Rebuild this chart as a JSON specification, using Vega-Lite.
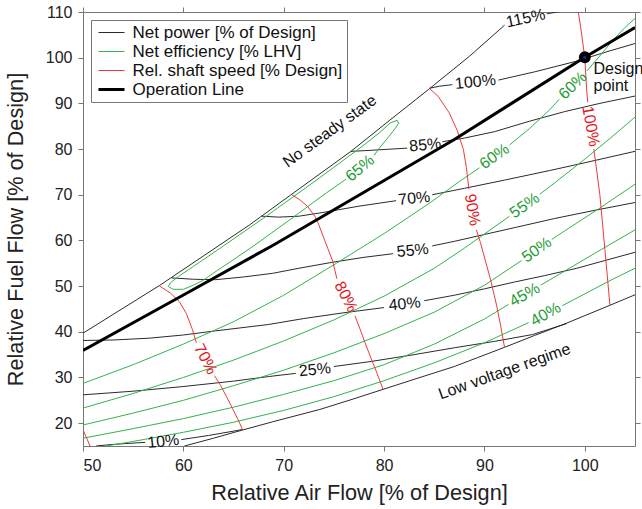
{
  "$schema": "https://vega.github.io/schema/vega-lite/v6.json",
  "width": 552,
  "height": 434,
  "autosize": {"type": "none"},
  "padding": {"left": 83, "top": 12, "right": 7, "bottom": 63},
  "background": "white",
  "config": {
    "font": "Liberation Sans",
    "view": {"stroke": null},
    "axis": {
      "grid": false, "tickSize": 5, "tickColor": "#777", "domainColor": "#777",
      "labelFontSize": 16, "labelColor": "#222", "titleFontSize": 21.7,
      "titleFontWeight": "normal", "titleColor": "#222",
      "labelFont": "Liberation Sans", "titleFont": "Liberation Sans"
    },
    "text": {"font": "Liberation Sans", "fontSize": 16}
  },
  "datasets": {
    "curves": [
      {"k": "P", "s": "bU", "x": 50, "y": 39.7}, {"k": "P", "s": "bU", "x": 53, "y": 43.8}, {"k": "P", "s": "bU", "x": 57.6, "y": 50.1}, {"k": "P", "s": "bU", "x": 62, "y": 56.6}, {"k": "P", "s": "bU", "x": 66.6, "y": 63.4}, {"k": "P", "s": "bU", "x": 70.6, "y": 69.8}, {"k": "P", "s": "bU", "x": 76.7, "y": 79.5}, {"k": "P", "s": "bU", "x": 80.5, "y": 86.2}, {"k": "P", "s": "bU", "x": 84.4, "y": 93.0}, {"k": "P", "s": "bU", "x": 88.5, "y": 100.3}, {"k": "P", "s": "bU", "x": 92.0, "y": 107.1},
      {"k": "P", "s": "p115", "x": 96.2, "y": 109.6}, {"k": "P", "s": "p115", "x": 97.8, "y": 110.2},
      {"k": "P", "s": "p100a", "x": 84.5, "y": 93.3}, {"k": "P", "s": "p100a", "x": 85.5, "y": 93.75}, {"k": "P", "s": "p100a", "x": 86.8, "y": 94.1},
      {"k": "P", "s": "p100b", "x": 91.4, "y": 95.1}, {"k": "P", "s": "p100b", "x": 95, "y": 96.9}, {"k": "P", "s": "p100b", "x": 99.3, "y": 99.3}, {"k": "P", "s": "p100b", "x": 100, "y": 99.8}, {"k": "P", "s": "p100b", "x": 102.5, "y": 101.5}, {"k": "P", "s": "p100b", "x": 105, "y": 103.1},
      {"k": "P", "s": "p85a", "x": 76.7, "y": 79.5}, {"k": "P", "s": "p85a", "x": 78.5, "y": 79.7}, {"k": "P", "s": "p85a", "x": 80, "y": 79.9}, {"k": "P", "s": "p85a", "x": 82.3, "y": 80.2},
      {"k": "P", "s": "p85b", "x": 85.8, "y": 81.6}, {"k": "P", "s": "p85b", "x": 88, "y": 82.4}, {"k": "P", "s": "p85b", "x": 91, "y": 83.8}, {"k": "P", "s": "p85b", "x": 94.5, "y": 86.1}, {"k": "P", "s": "p85b", "x": 98, "y": 88.2}, {"k": "P", "s": "p85b", "x": 101.5, "y": 90.0}, {"k": "P", "s": "p85b", "x": 105, "y": 91.6},
      {"k": "P", "s": "p70a", "x": 67.8, "y": 65.3}, {"k": "P", "s": "p70a", "x": 69.5, "y": 65.1}, {"k": "P", "s": "p70a", "x": 71.5, "y": 65.3}, {"k": "P", "s": "p70a", "x": 73.6, "y": 66.0}, {"k": "P", "s": "p70a", "x": 77.5, "y": 67.5}, {"k": "P", "s": "p70a", "x": 81.2, "y": 68.7},
      {"k": "P", "s": "p70b", "x": 84.8, "y": 70.0}, {"k": "P", "s": "p70b", "x": 88, "y": 71.4}, {"k": "P", "s": "p70b", "x": 92, "y": 73.2}, {"k": "P", "s": "p70b", "x": 96.5, "y": 75.3}, {"k": "P", "s": "p70b", "x": 100, "y": 77.0}, {"k": "P", "s": "p70b", "x": 105, "y": 79.5},
      {"k": "P", "s": "p55a", "x": 58.8, "y": 51.8}, {"k": "P", "s": "p55a", "x": 61, "y": 51.5}, {"k": "P", "s": "p55a", "x": 63.2, "y": 51.4}, {"k": "P", "s": "p55a", "x": 66, "y": 52.0}, {"k": "P", "s": "p55a", "x": 68.9, "y": 52.8}, {"k": "P", "s": "p55a", "x": 71.5, "y": 53.9}, {"k": "P", "s": "p55a", "x": 74.8, "y": 55.2}, {"k": "P", "s": "p55a", "x": 78, "y": 56.3}, {"k": "P", "s": "p55a", "x": 80.9, "y": 57.1},
      {"k": "P", "s": "p55b", "x": 84.8, "y": 58.8}, {"k": "P", "s": "p55b", "x": 87, "y": 59.8}, {"k": "P", "s": "p55b", "x": 90, "y": 61.3}, {"k": "P", "s": "p55b", "x": 93.2, "y": 62.9}, {"k": "P", "s": "p55b", "x": 97, "y": 64.8}, {"k": "P", "s": "p55b", "x": 101, "y": 66.6}, {"k": "P", "s": "p55b", "x": 105, "y": 68.3},
      {"k": "P", "s": "p40a", "x": 50, "y": 38.1}, {"k": "P", "s": "p40a", "x": 53, "y": 38.2}, {"k": "P", "s": "p40a", "x": 56.6, "y": 38.6}, {"k": "P", "s": "p40a", "x": 60, "y": 39.3}, {"k": "P", "s": "p40a", "x": 63.2, "y": 40.2}, {"k": "P", "s": "p40a", "x": 68.5, "y": 41.6}, {"k": "P", "s": "p40a", "x": 72, "y": 42.9}, {"k": "P", "s": "p40a", "x": 76.1, "y": 44.2}, {"k": "P", "s": "p40a", "x": 80.0, "y": 45.3},
      {"k": "P", "s": "p40b", "x": 84.0, "y": 46.8}, {"k": "P", "s": "p40b", "x": 87, "y": 48.0}, {"k": "P", "s": "p40b", "x": 90, "y": 49.4}, {"k": "P", "s": "p40b", "x": 93, "y": 50.9}, {"k": "P", "s": "p40b", "x": 96, "y": 52.3}, {"k": "P", "s": "p40b", "x": 99.2, "y": 53.9}, {"k": "P", "s": "p40b", "x": 102, "y": 55.6}, {"k": "P", "s": "p40b", "x": 105, "y": 57.4},
      {"k": "P", "s": "p25a", "x": 50, "y": 26.2}, {"k": "P", "s": "p25a", "x": 55, "y": 27.0}, {"k": "P", "s": "p25a", "x": 59.9, "y": 28.0}, {"k": "P", "s": "p25a", "x": 65, "y": 29.2}, {"k": "P", "s": "p25a", "x": 68.5, "y": 30.2}, {"k": "P", "s": "p25a", "x": 71.2, "y": 30.9},
      {"k": "P", "s": "p25b", "x": 75.0, "y": 32.4}, {"k": "P", "s": "p25b", "x": 78.7, "y": 33.5}, {"k": "P", "s": "p25b", "x": 83, "y": 35.0}, {"k": "P", "s": "p25b", "x": 87, "y": 36.5}, {"k": "P", "s": "p25b", "x": 91, "y": 37.9}, {"k": "P", "s": "p25b", "x": 94.8, "y": 39.4}, {"k": "P", "s": "p25b", "x": 98.2, "y": 41.8},
      {"k": "P", "s": "p10a", "x": 51.3, "y": 15}, {"k": "P", "s": "p10a", "x": 53, "y": 15.35}, {"k": "P", "s": "p10a", "x": 56.2, "y": 15.8},
      {"k": "P", "s": "p10b", "x": 59.8, "y": 16.4}, {"k": "P", "s": "p10b", "x": 62.5, "y": 17.3}, {"k": "P", "s": "p10b", "x": 65.9, "y": 18.6},
      {"k": "P", "s": "bL", "x": 60.1, "y": 15}, {"k": "P", "s": "bL", "x": 63, "y": 16.7}, {"k": "P", "s": "bL", "x": 65.9, "y": 18.5}, {"k": "P", "s": "bL", "x": 68.9, "y": 20.3}, {"k": "P", "s": "bL", "x": 73.6, "y": 23.0}, {"k": "P", "s": "bL", "x": 76.8, "y": 25.2}, {"k": "P", "s": "bL", "x": 79.9, "y": 27.4}, {"k": "P", "s": "bL", "x": 83, "y": 29.6}, {"k": "P", "s": "bL", "x": 87, "y": 32.4}, {"k": "P", "s": "bL", "x": 92, "y": 36.6}, {"k": "P", "s": "bL", "x": 95, "y": 39.2}, {"k": "P", "s": "bL", "x": 98.2, "y": 41.9}, {"k": "P", "s": "bL", "x": 102.5, "y": 45.8}, {"k": "P", "s": "bL", "x": 105, "y": 48.1},

      {"k": "E", "s": "e65", "x": 79.0, "y": 78.6}, {"k": "E", "s": "e65", "x": 79.6, "y": 80.4}, {"k": "E", "s": "e65", "x": 80.5, "y": 82.8}, {"k": "E", "s": "e65", "x": 81.1, "y": 84.5}, {"k": "E", "s": "e65", "x": 81.45, "y": 85.6}, {"k": "E", "s": "e65", "x": 81.3, "y": 86.3}, {"k": "E", "s": "e65", "x": 80.6, "y": 85.7}, {"k": "E", "s": "e65", "x": 79.5, "y": 83.5}, {"k": "E", "s": "e65", "x": 78, "y": 80.9}, {"k": "E", "s": "e65", "x": 75, "y": 76.0}, {"k": "E", "s": "e65", "x": 72, "y": 71.2}, {"k": "E", "s": "e65", "x": 68, "y": 64.9}, {"k": "E", "s": "e65", "x": 64, "y": 58.8}, {"k": "E", "s": "e65", "x": 61, "y": 54.3}, {"k": "E", "s": "e65", "x": 59.5, "y": 52.1}, {"k": "E", "s": "e65", "x": 58.7, "y": 50.7}, {"k": "E", "s": "e65", "x": 58.5, "y": 49.9}, {"k": "E", "s": "e65", "x": 59.0, "y": 49.3}, {"k": "E", "s": "e65", "x": 60.0, "y": 49.3}, {"k": "E", "s": "e65", "x": 61, "y": 50.2}, {"k": "E", "s": "e65", "x": 62, "y": 51.3}, {"k": "E", "s": "e65", "x": 63.3, "y": 53.3}, {"k": "E", "s": "e65", "x": 65, "y": 55.8}, {"k": "E", "s": "e65", "x": 67, "y": 58.8}, {"k": "E", "s": "e65", "x": 70.6, "y": 64.5}, {"k": "E", "s": "e65", "x": 73, "y": 68.4}, {"k": "E", "s": "e65", "x": 74.25, "y": 70.4}, {"k": "E", "s": "e65", "x": 76.2, "y": 73.4},
      {"k": "E", "s": "e60a", "x": 50, "y": 28.7}, {"k": "E", "s": "e60a", "x": 55, "y": 32.8}, {"k": "E", "s": "e60a", "x": 60, "y": 37.3}, {"k": "E", "s": "e60a", "x": 65, "y": 42.2}, {"k": "E", "s": "e60a", "x": 70, "y": 48.0}, {"k": "E", "s": "e60a", "x": 75.25, "y": 55.0}, {"k": "E", "s": "e60a", "x": 80, "y": 61.5}, {"k": "E", "s": "e60a", "x": 84.55, "y": 68.2}, {"k": "E", "s": "e60a", "x": 87.5, "y": 72.9}, {"k": "E", "s": "e60a", "x": 89.5, "y": 75.9},
      {"k": "E", "s": "e60b", "x": 92.5, "y": 80.9}, {"k": "E", "s": "e60b", "x": 94.5, "y": 84.5}, {"k": "E", "s": "e60b", "x": 96.5, "y": 88.6}, {"k": "E", "s": "e60b", "x": 97.45, "y": 90.9},
      {"k": "E", "s": "e60c", "x": 100.2, "y": 97.1}, {"k": "E", "s": "e60c", "x": 101.5, "y": 100.4}, {"k": "E", "s": "e60c", "x": 102.7, "y": 103.6}, {"k": "E", "s": "e60c", "x": 104, "y": 106.6}, {"k": "E", "s": "e60c", "x": 105, "y": 108.6},
      {"k": "E", "s": "e55a", "x": 50, "y": 23.3}, {"k": "E", "s": "e55a", "x": 55, "y": 26.5}, {"k": "E", "s": "e55a", "x": 60, "y": 30.0}, {"k": "E", "s": "e55a", "x": 65, "y": 33.8}, {"k": "E", "s": "e55a", "x": 70, "y": 38.0}, {"k": "E", "s": "e55a", "x": 75, "y": 42.6}, {"k": "E", "s": "e55a", "x": 80, "y": 47.8}, {"k": "E", "s": "e55a", "x": 85, "y": 53.9}, {"k": "E", "s": "e55a", "x": 88, "y": 58.3}, {"k": "E", "s": "e55a", "x": 92.5, "y": 65.3},
      {"k": "E", "s": "e55b", "x": 95.5, "y": 70.1}, {"k": "E", "s": "e55b", "x": 97, "y": 72.6}, {"k": "E", "s": "e55b", "x": 100, "y": 77.8}, {"k": "E", "s": "e55b", "x": 102.5, "y": 82.3}, {"k": "E", "s": "e55b", "x": 105, "y": 87},
      {"k": "E", "s": "e50a", "x": 50, "y": 19.6}, {"k": "E", "s": "e50a", "x": 55, "y": 22.2}, {"k": "E", "s": "e50a", "x": 60, "y": 25.0}, {"k": "E", "s": "e50a", "x": 65, "y": 28.2}, {"k": "E", "s": "e50a", "x": 70, "y": 31.6}, {"k": "E", "s": "e50a", "x": 75, "y": 35.4}, {"k": "E", "s": "e50a", "x": 80, "y": 39.6}, {"k": "E", "s": "e50a", "x": 85, "y": 44.3}, {"k": "E", "s": "e50a", "x": 90, "y": 50.2}, {"k": "E", "s": "e50a", "x": 93.7, "y": 55.6},
      {"k": "E", "s": "e50b", "x": 96.7, "y": 60.2}, {"k": "E", "s": "e50b", "x": 98, "y": 62.1}, {"k": "E", "s": "e50b", "x": 101.5, "y": 67.1}, {"k": "E", "s": "e50b", "x": 105, "y": 72.3},
      {"k": "E", "s": "e45a", "x": 50, "y": 16.7}, {"k": "E", "s": "e45a", "x": 55, "y": 18.8}, {"k": "E", "s": "e45a", "x": 60, "y": 21.0}, {"k": "E", "s": "e45a", "x": 65, "y": 23.5}, {"k": "E", "s": "e45a", "x": 70, "y": 26.3}, {"k": "E", "s": "e45a", "x": 75, "y": 29.3}, {"k": "E", "s": "e45a", "x": 80, "y": 32.8}, {"k": "E", "s": "e45a", "x": 85, "y": 37.3}, {"k": "E", "s": "e45a", "x": 90, "y": 42.8}, {"k": "E", "s": "e45a", "x": 92.4, "y": 46.0},
      {"k": "E", "s": "e45b", "x": 95.6, "y": 50.2}, {"k": "E", "s": "e45b", "x": 98, "y": 53.3}, {"k": "E", "s": "e45b", "x": 101, "y": 57.2}, {"k": "E", "s": "e45b", "x": 105, "y": 62.3},
      {"k": "E", "s": "e40a", "x": 52.3, "y": 15}, {"k": "E", "s": "e40a", "x": 55, "y": 16.0}, {"k": "E", "s": "e40a", "x": 60, "y": 18.0}, {"k": "E", "s": "e40a", "x": 65, "y": 20.2}, {"k": "E", "s": "e40a", "x": 70, "y": 22.8}, {"k": "E", "s": "e40a", "x": 75, "y": 25.8}, {"k": "E", "s": "e40a", "x": 80, "y": 29.3}, {"k": "E", "s": "e40a", "x": 85, "y": 33.2}, {"k": "E", "s": "e40a", "x": 90, "y": 37.6}, {"k": "E", "s": "e40a", "x": 94.4, "y": 42.0},
      {"k": "E", "s": "e40b", "x": 97.75, "y": 45.7}, {"k": "E", "s": "e40b", "x": 100, "y": 48.3}, {"k": "E", "s": "e40b", "x": 102.5, "y": 51.2}, {"k": "E", "s": "e40b", "x": 105, "y": 53.9},

      {"k": "S", "s": "s60", "x": 50, "y": 18.5}, {"k": "S", "s": "s60", "x": 50.35, "y": 16.8}, {"k": "S", "s": "s60", "x": 50.7, "y": 15},
      {"k": "S", "s": "s70a", "x": 57.6, "y": 50.05}, {"k": "S", "s": "s70a", "x": 58.7, "y": 48.5}, {"k": "S", "s": "s70a", "x": 59.6, "y": 46.6}, {"k": "S", "s": "s70a", "x": 60.3, "y": 44}, {"k": "S", "s": "s70a", "x": 60.9, "y": 40.5}, {"k": "S", "s": "s70a", "x": 61.3, "y": 37.6},
      {"k": "S", "s": "s70b", "x": 63.1, "y": 30.4}, {"k": "S", "s": "s70b", "x": 63.7, "y": 28.3}, {"k": "S", "s": "s70b", "x": 64.3, "y": 25.8}, {"k": "S", "s": "s70b", "x": 64.9, "y": 23.2}, {"k": "S", "s": "s70b", "x": 65.4, "y": 21}, {"k": "S", "s": "s70b", "x": 65.9, "y": 18.6},
      {"k": "S", "s": "s80a", "x": 70.8, "y": 70.0}, {"k": "S", "s": "s80a", "x": 71.6, "y": 68.9}, {"k": "S", "s": "s80a", "x": 72.4, "y": 67.4}, {"k": "S", "s": "s80a", "x": 73.1, "y": 65.3}, {"k": "S", "s": "s80a", "x": 73.5, "y": 63.4}, {"k": "S", "s": "s80a", "x": 74.0, "y": 60.5}, {"k": "S", "s": "s80a", "x": 74.4, "y": 58.2}, {"k": "S", "s": "s80a", "x": 74.9, "y": 55.3}, {"k": "S", "s": "s80a", "x": 75.3, "y": 51.6},
      {"k": "S", "s": "s80b", "x": 77.1, "y": 43.5}, {"k": "S", "s": "s80b", "x": 77.6, "y": 40.6}, {"k": "S", "s": "s80b", "x": 78.1, "y": 37.6}, {"k": "S", "s": "s80b", "x": 78.7, "y": 34.2}, {"k": "S", "s": "s80b", "x": 79.3, "y": 30.9}, {"k": "S", "s": "s80b", "x": 79.9, "y": 27.4},
      {"k": "S", "s": "s90a", "x": 84.5, "y": 93.3}, {"k": "S", "s": "s90a", "x": 85.4, "y": 91.5}, {"k": "S", "s": "s90a", "x": 86.5, "y": 87.9}, {"k": "S", "s": "s90a", "x": 87.3, "y": 84}, {"k": "S", "s": "s90a", "x": 87.9, "y": 79.9}, {"k": "S", "s": "s90a", "x": 88.2, "y": 76}, {"k": "S", "s": "s90a", "x": 88.45, "y": 71.2},
      {"k": "S", "s": "s90b", "x": 89.2, "y": 62.3}, {"k": "S", "s": "s90b", "x": 89.6, "y": 59.5}, {"k": "S", "s": "s90b", "x": 90.1, "y": 55.5}, {"k": "S", "s": "s90b", "x": 90.6, "y": 51.5}, {"k": "S", "s": "s90b", "x": 91.2, "y": 45.9}, {"k": "S", "s": "s90b", "x": 91.6, "y": 41.5}, {"k": "S", "s": "s90b", "x": 92.0, "y": 36.6},
      {"k": "S", "s": "s100a", "x": 99.35, "y": 110}, {"k": "S", "s": "s100a", "x": 99.6, "y": 106.5}, {"k": "S", "s": "s100a", "x": 99.8, "y": 103.2}, {"k": "S", "s": "s100a", "x": 100, "y": 100}, {"k": "S", "s": "s100a", "x": 100.1, "y": 96}, {"k": "S", "s": "s100a", "x": 100.2, "y": 92.5}, {"k": "S", "s": "s100a", "x": 100.3, "y": 90.2},
      {"k": "S", "s": "s100b", "x": 100.9, "y": 80}, {"k": "S", "s": "s100b", "x": 101.2, "y": 75}, {"k": "S", "s": "s100b", "x": 101.5, "y": 70}, {"k": "S", "s": "s100b", "x": 101.75, "y": 64}, {"k": "S", "s": "s100b", "x": 102.0, "y": 58}, {"k": "S", "s": "s100b", "x": 102.25, "y": 52}, {"k": "S", "s": "s100b", "x": 102.5, "y": 45.8}
    ],
    "operation": [
      {"k": "O", "x": 50, "y": 35.9}, {"k": "O", "x": 59.96, "y": 48.0}, {"k": "O", "x": 68.9, "y": 58.9}, {"k": "O", "x": 73.6, "y": 64.9}, {"k": "O", "x": 87, "y": 82.1}, {"k": "O", "x": 100, "y": 100.1}, {"k": "O", "x": 105, "y": 106.6}
    ],
    "labels": [
      {"id": "p115", "t": "115%", "x": 94.1, "y": 108.6},
      {"id": "p100", "t": "100%", "x": 89.1, "y": 94.7},
      {"id": "p85", "t": "85%", "x": 84.1, "y": 80.9},
      {"id": "p70", "t": "70%", "x": 83.0, "y": 69.2},
      {"id": "p55", "t": "55%", "x": 82.85, "y": 57.8},
      {"id": "p40", "t": "40%", "x": 82.05, "y": 46.1},
      {"id": "p25", "t": "25%", "x": 73.1, "y": 31.7},
      {"id": "p10", "t": "10%", "x": 58.0, "y": 16.0},
      {"id": "e65", "t": "65%", "x": 77.6, "y": 75.8},
      {"id": "e60a", "t": "60%", "x": 91.0, "y": 78.4},
      {"id": "e60b", "t": "60%", "x": 98.8, "y": 93.9},
      {"id": "e55", "t": "55%", "x": 94.0, "y": 67.65},
      {"id": "e50", "t": "50%", "x": 95.2, "y": 57.95},
      {"id": "e45", "t": "45%", "x": 94.0, "y": 48.1},
      {"id": "e40", "t": "40%", "x": 96.1, "y": 43.85},
      {"id": "s70", "t": "70%", "x": 62.2, "y": 34.0},
      {"id": "s80", "t": "80%", "x": 76.2, "y": 47.65},
      {"id": "s90", "t": "90%", "x": 88.8, "y": 66.7},
      {"id": "s100", "t": "100%", "x": 100.6, "y": 85.0},
      {"id": "nss", "t": "No steady state", "x": 74.58, "y": 83.9},
      {"id": "lvr", "t": "Low voltage regime", "x": 92.0, "y": 31.3},
      {"id": "dp1", "t": "Design", "x": 100.87, "y": 96.45},
      {"id": "dp2", "t": "point", "x": 100.87, "y": 92.65}
    ],
    "design": [{"x": 100, "y": 100.1}]
  },
  "resolve": {"axis": {"x": "independent", "y": "independent"}},
  "encoding": {
    "x": {"field": "x", "type": "quantitative", "scale": {"domain": [50, 105], "nice": false, "zero": false}, "axis": null},
    "y": {"field": "y", "type": "quantitative", "scale": {"domain": [15, 110], "nice": false, "zero": false}, "axis": null}
  },
  "layer": [
    {
      "data": {"name": "curves"},
      "mark": {"type": "line", "clip": true, "strokeWidth": 1},
      "encoding": {
        "x": {"field": "x", "type": "quantitative", "scale": {"domain": [50, 105], "nice": false, "zero": false},
              "axis": {"orient": "bottom", "values": [50, 60, 70, 80, 90, 100], "title": "Relative Air Flow [% of Design]", "labelPadding": 6, "titlePadding": 9}},
        "y": {"field": "y", "type": "quantitative", "scale": {"domain": [15, 110], "nice": false, "zero": false},
              "axis": {"orient": "left", "values": [20, 30, 40, 50, 60, 70, 80, 90, 100, 110], "title": "Relative Fuel Flow [% of Design]", "labelPadding": 6, "titlePadding": 18}},
        "detail": {"field": "s", "type": "nominal"},
        "order": {"value": null},
        "color": {
          "field": "k", "type": "nominal",
          "scale": {"domain": ["P", "E", "S", "O"], "range": ["#2b2b2b", "#2fb54c", "#eb3b3b", "#000000"]},
          "legend": {"title": null, "orient": "top-left", "offset": 8, "symbolType": "M-1.24,0H1.24", "symbolSize": 441, "symbolOffset": 8,
                     "labelFontSize": 17, "labelLimit": 400, "labelOffset": 12.5, "padding": 4, "rowPadding": 1,
                     "strokeColor": "#777", "fillColor": "white", "labelColor": "#111",
                     "labelExpr": "datum.label == 'P' ? 'Net power [% of Design]' : datum.label == 'E' ? 'Net efficiency [% LHV]' : datum.label == 'S' ? 'Rel. shaft speed [% Design]' : 'Operation Line'",
                     "encode": {"symbols": {"update": {"strokeWidth": {"signal": "datum.value == 'O' ? 3 : 1"}, "fill": {"value": "transparent"}}}}}
        }
      }
    },
    {
      "data": {"name": "operation"},
      "mark": {"type": "line", "clip": true, "strokeWidth": 3},
      "encoding": {
        "order": {"value": null},
        "color": {"field": "k", "type": "nominal", "scale": {"domain": ["P", "E", "S", "O"], "range": ["#2b2b2b", "#2fb54c", "#eb3b3b", "#000000"]}}
      }
    },
    {
      "data": {"name": "labels"},
      "transform": [{"filter": {"field": "id", "oneOf": ["p100", "p85", "p70", "p55", "p40", "p25", "p10"]}}],
      "mark": {"type": "text", "angle": 354, "fontSize": 16, "color": "#111", "align": "center", "baseline": "middle"},
      "encoding": {"text": {"field": "t"}}
    },
    {
      "data": {"name": "labels"},
      "transform": [{"filter": {"field": "id", "oneOf": ["p115"]}}],
      "mark": {"type": "text", "angle": 348, "fontSize": 16, "color": "#111", "align": "center", "baseline": "middle"},
      "encoding": {"text": {"field": "t"}}
    },
    {
      "data": {"name": "labels"},
      "transform": [{"filter": {"field": "id", "oneOf": ["e60a", "e55", "e50"]}}],
      "mark": {"type": "text", "angle": 325, "fontSize": 16, "color": "#1f9c36", "align": "center", "baseline": "middle"},
      "encoding": {"text": {"field": "t"}}
    },
    {
      "data": {"name": "labels"},
      "transform": [{"filter": {"field": "id", "oneOf": ["e65"]}}],
      "mark": {"type": "text", "angle": 320, "fontSize": 16, "color": "#1f9c36", "align": "center", "baseline": "middle"},
      "encoding": {"text": {"field": "t"}}
    },
    {
      "data": {"name": "labels"},
      "transform": [{"filter": {"field": "id", "oneOf": ["e60b"]}}],
      "mark": {"type": "text", "angle": 316, "fontSize": 16, "color": "#1f9c36", "align": "center", "baseline": "middle"},
      "encoding": {"text": {"field": "t"}}
    },
    {
      "data": {"name": "labels"},
      "transform": [{"filter": {"field": "id", "oneOf": ["e45", "e40"]}}],
      "mark": {"type": "text", "angle": 330, "fontSize": 16, "color": "#1f9c36", "align": "center", "baseline": "middle"},
      "encoding": {"text": {"field": "t"}}
    },
    {
      "data": {"name": "labels"},
      "transform": [{"filter": {"field": "id", "oneOf": ["s70", "s80"]}}],
      "mark": {"type": "text", "angle": 62, "fontSize": 16, "color": "#e3151b", "align": "center", "baseline": "middle"},
      "encoding": {"text": {"field": "t"}}
    },
    {
      "data": {"name": "labels"},
      "transform": [{"filter": {"field": "id", "oneOf": ["s90", "s100"]}}],
      "mark": {"type": "text", "angle": 80, "fontSize": 16, "color": "#e3151b", "align": "center", "baseline": "middle"},
      "encoding": {"text": {"field": "t"}}
    },
    {
      "data": {"name": "labels"},
      "transform": [{"filter": {"field": "id", "oneOf": ["nss"]}}],
      "mark": {"type": "text", "angle": 324, "fontSize": 16, "color": "#111", "align": "center", "baseline": "middle"},
      "encoding": {"text": {"field": "t"}}
    },
    {
      "data": {"name": "labels"},
      "transform": [{"filter": {"field": "id", "oneOf": ["lvr"]}}],
      "mark": {"type": "text", "angle": 340.4, "fontSize": 16, "color": "#111", "align": "center", "baseline": "middle"},
      "encoding": {"text": {"field": "t"}}
    },
    {
      "data": {"name": "labels"},
      "transform": [{"filter": {"field": "id", "oneOf": ["dp1", "dp2"]}}],
      "mark": {"type": "text", "fontSize": 16, "color": "#111", "align": "left", "baseline": "alphabetic"},
      "encoding": {"text": {"field": "t"}}
    },
    {
      "data": {"name": "design"},
      "mark": {"type": "point", "shape": "circle", "filled": true, "size": 140, "color": "#000000", "opacity": 1},
      "encoding": {
        "x": {"field": "x", "type": "quantitative", "scale": {"domain": [50, 105], "nice": false, "zero": false},
              "axis": {"orient": "top", "values": [50, 60, 70, 80, 90, 100], "labels": false, "title": null}},
        "y": {"field": "y", "type": "quantitative", "scale": {"domain": [15, 110], "nice": false, "zero": false},
              "axis": {"orient": "right", "values": [20, 30, 40, 50, 60, 70, 80, 90, 100, 110], "labels": false, "title": null}}
      }
    },
    {
      "data": {"name": "design"},
      "mark": {"type": "point", "shape": "circle", "filled": true, "size": 10, "color": "#1c2a8a", "opacity": 1}
    }
  ]
}
